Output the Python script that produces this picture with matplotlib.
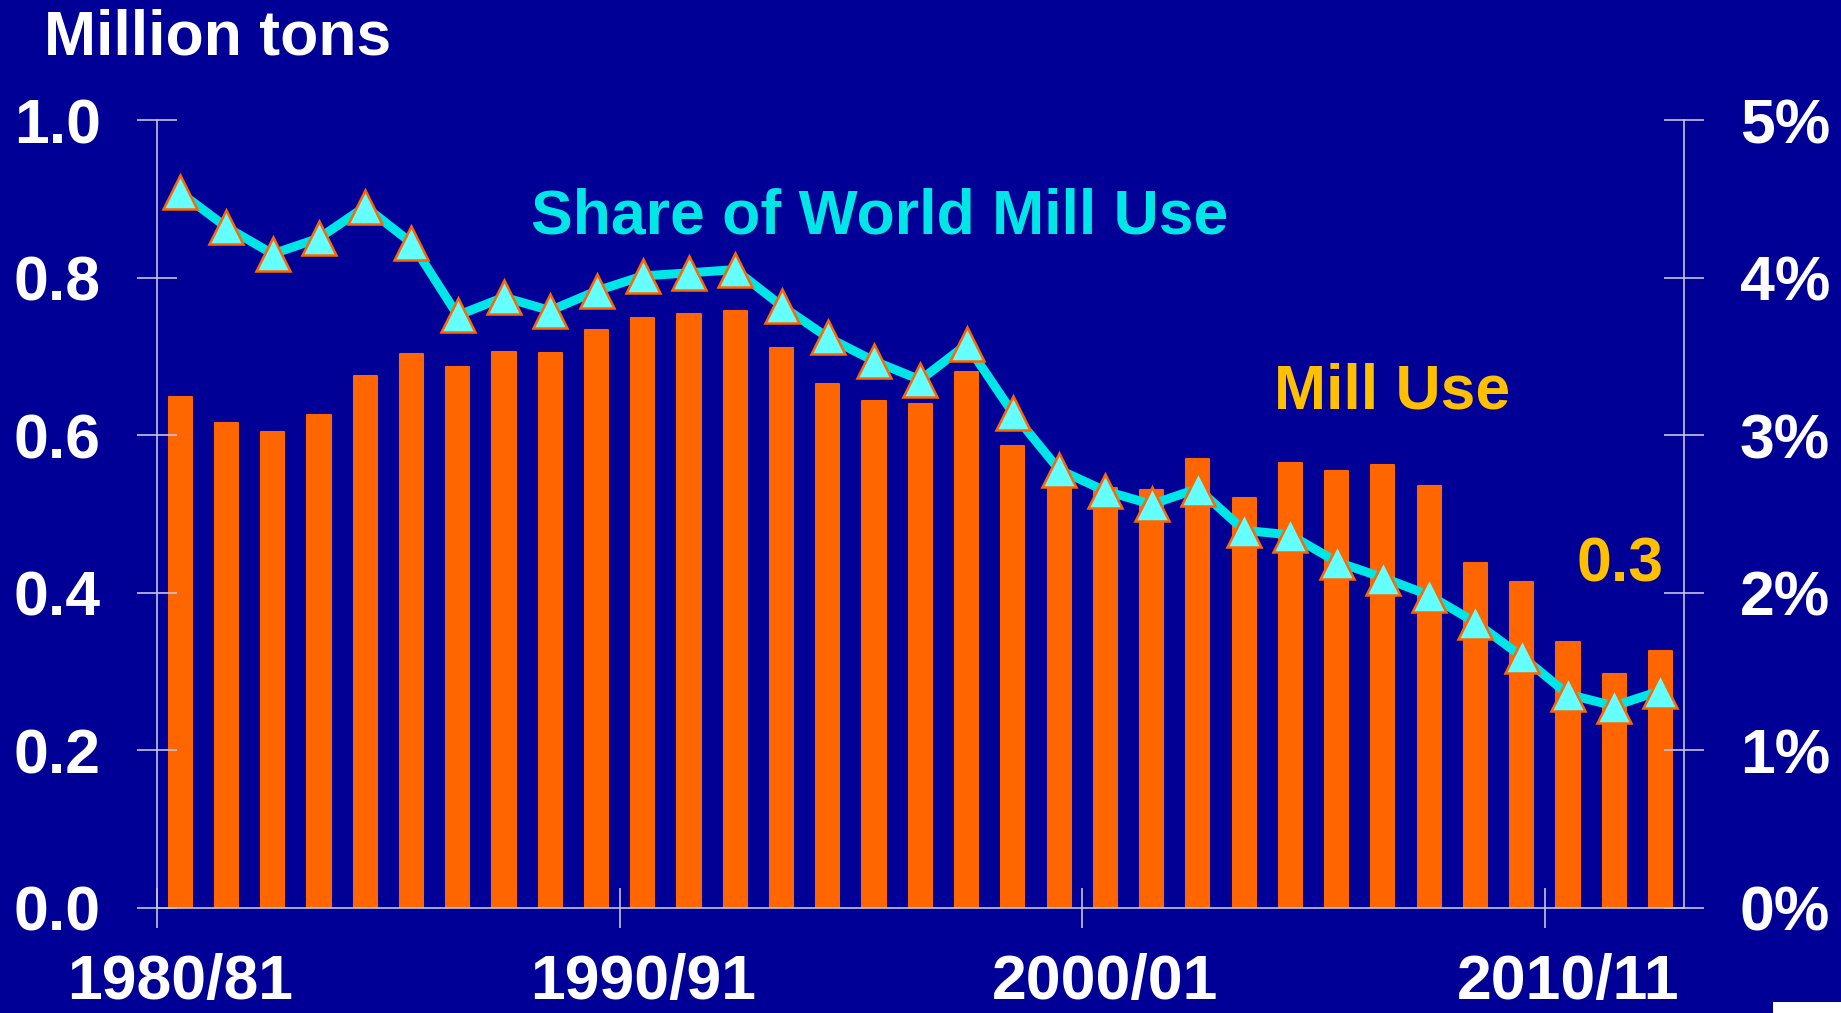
import matplotlib
matplotlib.use("Agg")
import matplotlib.pyplot as plt
from matplotlib.patches import Rectangle

# --- data -------------------------------------------------------------------
seasons = [f"{y}/{(y + 1) % 100:02d}" for y in range(1980, 2013)]

mill_use = [0.648, 0.615, 0.604, 0.625, 0.675, 0.703, 0.686, 0.705, 0.704, 0.734,
            0.748, 0.754, 0.757, 0.710, 0.665, 0.643, 0.640, 0.680, 0.586, 0.538,
            0.533, 0.530, 0.570, 0.520, 0.564, 0.554, 0.562, 0.535, 0.437, 0.414,
            0.337, 0.297, 0.326]   # million tons

share_pct = [4.54, 4.32, 4.15, 4.25, 4.45, 4.22, 3.76, 3.875, 3.79, 3.915,
             4.01, 4.03, 4.05, 3.82, 3.62, 3.47, 3.35, 3.575, 3.14, 2.78,
             2.645, 2.56, 2.66, 2.395, 2.366, 2.195, 2.095, 1.983, 1.81, 1.595,
             1.354, 1.28, 1.376]   # % of world mill use

left_ticks = [0.0, 0.2, 0.4, 0.6, 0.8, 1.0]
right_ticks = [0, 1, 2, 3, 4, 5]
label_every = 10

# --- style ------------------------------------------------------------------
BG = "#000096"
BAR = "#FF6600"
CYAN = "#00E5E5"
GOLD = "#FFC000"
AXC = "#c4c4dc"
FS = 45

plt.rcParams["font.family"] = ["Liberation Sans", "DejaVu Sans"]
plt.rcParams["font.weight"] = "bold"

fig = plt.figure(figsize=(18.41, 10.13), dpi=100, facecolor=BG)
ax = fig.add_axes([0.0853, 0.1041, 0.9145 - 0.0853, 0.8815 - 0.1041])
ax.set_facecolor(BG)

x = list(range(len(seasons)))
ax.bar(x, mill_use, width=0.5, color=BAR, edgecolor=BAR, linewidth=1.5,
       joinstyle="round", zorder=1)
ax.set_xlim(-0.5, len(seasons) - 0.5)
ax.set_ylim(0, 1)

ax2 = ax.twinx()
ax2.plot(x, share_pct, color=CYAN, lw=6.5, marker="^", ms=24,
         mfc="#66FFFF", mec=BAR, mew=1.8, zorder=3)
ax2.set_ylim(0, 5)

# axes lines and ticks
for s in ["top", "right"]:
    ax.spines[s].set_visible(False)
for s in ["top", "left", "bottom"]:
    ax2.spines[s].set_visible(False)
for sp in [ax.spines["left"], ax.spines["bottom"], ax2.spines["right"]]:
    sp.set_color(AXC)
    sp.set_linewidth(1.2)

ax.set_yticks(left_ticks)
ax.set_yticklabels([f"{v:.1f}" for v in left_ticks])
ax2.set_yticks(right_ticks)
ax2.set_yticklabels([f"{v}%" for v in right_ticks])

# tick marks on category boundaries, labels on category centres
ax.set_xticks([i - 0.5 for i in x[::label_every]])
ax.set_xticklabels([])
ax.set_xticks(x[::label_every], minor=True)
ax.set_xticklabels(seasons[::label_every], minor=True)

ax.tick_params(axis="x", which="major", direction="inout", length=29,
               width=1.2, color=AXC)
ax.tick_params(axis="x", which="minor", length=0, pad=33,
               labelsize=FS, labelcolor="white")
ax.tick_params(axis="y", direction="inout", length=29, width=1.2, color=AXC,
               pad=26, labelsize=FS, labelcolor="white")
ax2.tick_params(axis="y", direction="inout", length=29, width=1.2, color=AXC,
                pad=26, labelsize=FS, labelcolor="white")

# annotations
fig.text(0.024, 0.962, "Million tons", color="white", fontsize=FS,
         fontweight="bold", ha="left", va="center")
ax.text(15.12, 0.877, "Share of World Mill Use", color=CYAN, fontsize=FS,
        fontweight="bold", ha="center", va="center")
ax.text(26.2, 0.655, "Mill Use", color=GOLD, fontsize=FS,
        fontweight="bold", ha="center", va="center")
ax.text(31.13, 0.435, "0.3", color=GOLD, fontsize=FS,
        fontweight="bold", ha="center", va="center")

# small white box in the lower right corner of the slide
fig.patches.append(Rectangle((0.963, 0.0), 0.037, 0.0105, transform=fig.transFigure,
                             facecolor="white", edgecolor="none"))

fig.savefig("out.png", dpi=100, facecolor=BG)
